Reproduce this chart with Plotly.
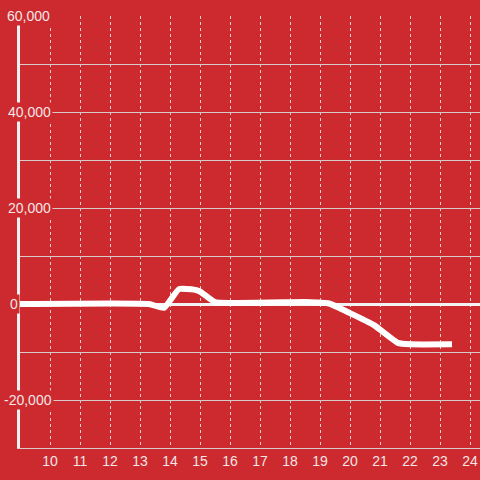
import plotly.graph_objects as go

# data
hours = [9, 13.3, 13.8, 14.3, 14.8, 15.0, 15.5, 18.5, 19.3, 20.0, 20.8, 21.6, 22.0, 23.4]
values = [0, 0, -800, 3100, 3000, 2600, 400, 400, 100, -1900, -4400, -8100, -8400, -8400]
x_ticks = list(range(10, 25))
y_ticks = [60000, 40000, 20000, 0, -20000]
y_labels = ["60,000", "40,000", "20,000", "0", "-20,000"]
y_label_left_px = [5, 6, 6, 8, 2]

BG = "#CC2A2F"
TXT = "#F4E6E6"
FONT = "'Liberation Sans', Arial, sans-serif"

fig = go.Figure()
fig.add_trace(go.Scatter(x=hours, y=values, mode="lines",
                         line=dict(color="white", width=6, shape="spline", smoothing=0.4),
                         hoverinfo="skip"))

fig.update_layout(
    width=480, height=480,
    margin=dict(l=20, r=0, t=16, b=32),
    paper_bgcolor=BG, plot_bgcolor=BG,
    showlegend=False,
    font=dict(family=FONT, size=14, color=TXT),
    xaxis=dict(range=[9, 24.333], tickvals=x_ticks, ticktext=[str(t) for t in x_ticks],
               showgrid=True, gridcolor="#E8D0D0", gridwidth=1, griddash="dot",
               zeroline=False, showline=True, linecolor="#D9C9C9", linewidth=1,
               ticks="", tickfont=dict(size=14, color=TXT, family=FONT)),
    yaxis=dict(range=[-30000, 60000], dtick=10000, showticklabels=False,
               showgrid=True, gridcolor="#D8CACA", gridwidth=1,
               zeroline=True, zerolinecolor="#F2F2F2", zerolinewidth=3,
               showline=True, linecolor="#F0F0F0", linewidth=3, ticks=""),
)

for v, lab, px in zip(y_ticks, y_labels, y_label_left_px):
    fig.add_annotation(x=(px - 20) / 460, xref="paper", xanchor="left",
                       y=v, yref="y", yanchor="middle",
                       text=lab, showarrow=False, bgcolor=BG,
                       font=dict(size=14, color=TXT, family=FONT), borderpad=1)

fig.write_html("out.html", config={"displayModeBar": False},
               post_script="document.body.style.margin='0';document.body.style.padding='0';")
